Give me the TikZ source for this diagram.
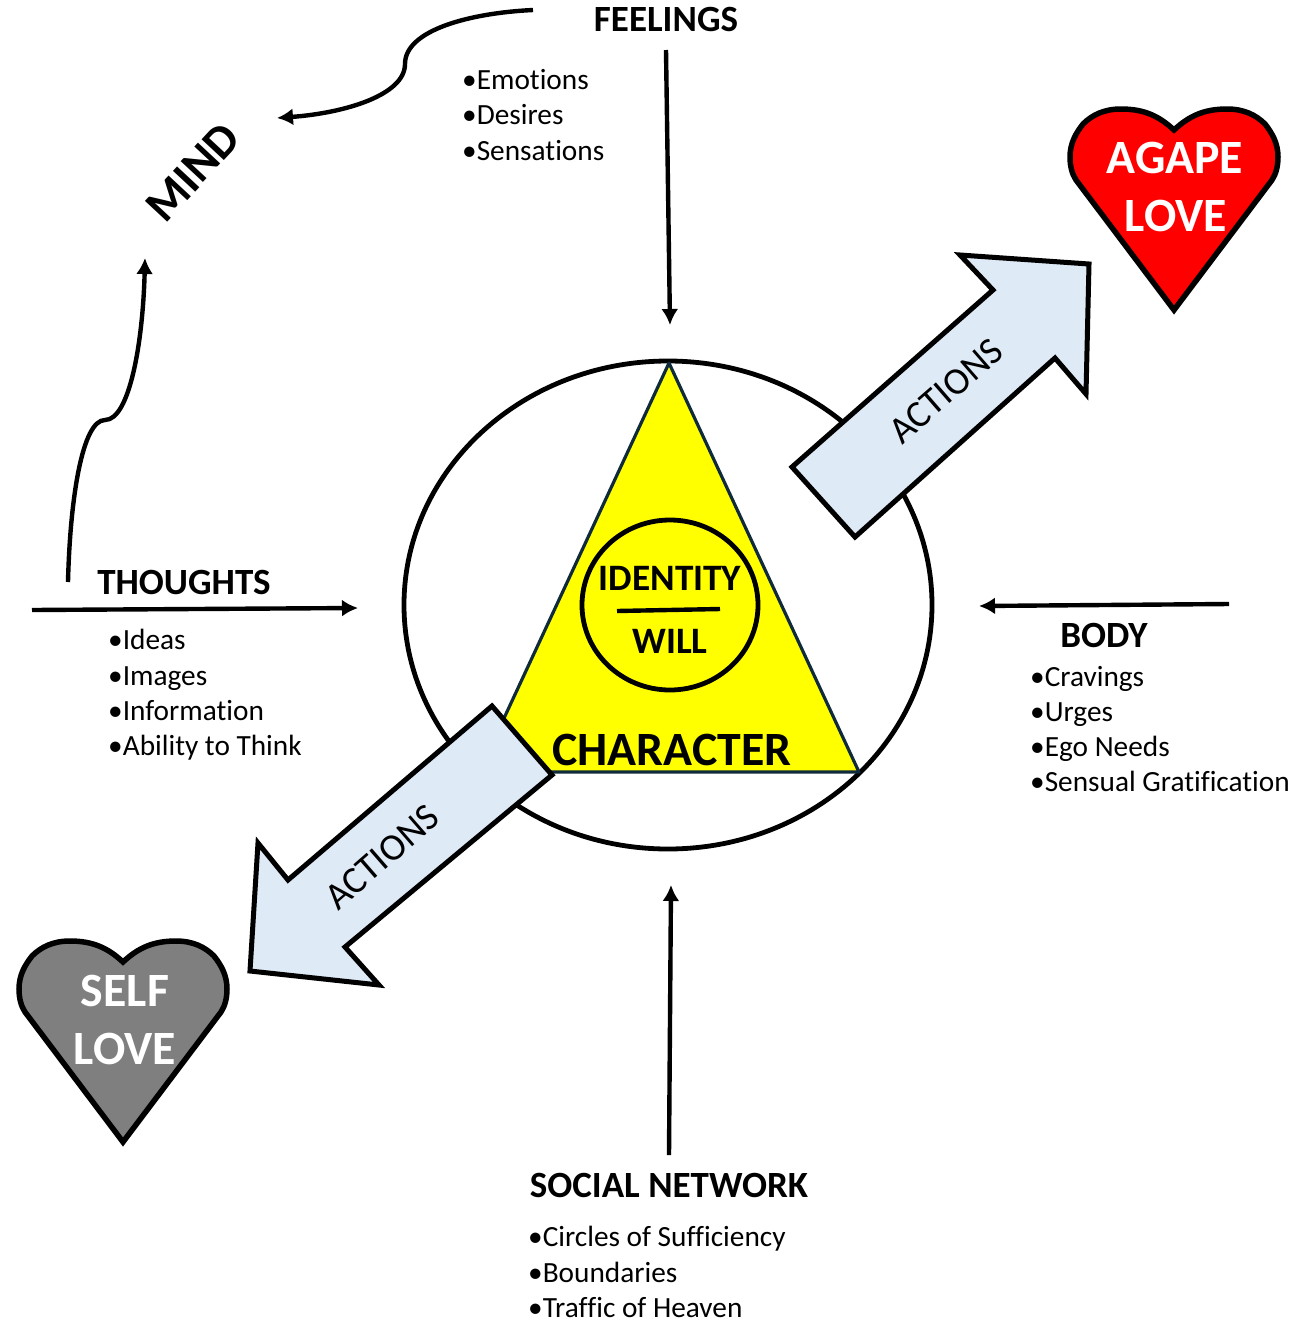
\documentclass[tikz,border=0pt]{standalone}
\usepackage{fontspec}
\setmainfont[Ligatures=NoCommon]{Carlito}
\usetikzlibrary{arrows.meta}

\definecolor{actionblue}{HTML}{DEEAF6}
\definecolor{triedge}{HTML}{0F2A3A}
\definecolor{selfgray}{HTML}{7F7F7F}
\definecolor{triyellow}{RGB}{255,255,0}
\definecolor{heartred}{RGB}{255,0,0}

\newcommand{\heartpath}{(0,0) .. controls (-15,-14) and (-30,-21) .. (-53,-21) .. controls (-70,-21) and (-82,-15) .. (-91,-6)
	.. controls (-98,3) and (-104,13) .. (-104,27) .. controls (-104,36) and (-102,44) .. (-98,50)
	-- (0,180) -- (98,50) .. controls (102,44) and (104,36) .. (104,27) .. controls (104,13) and (98,3) .. (91,-6)
	.. controls (82,-15) and (70,-21) .. (53,-21) .. controls (30,-21) and (15,-14) .. (0,0) -- cycle}

\tikzset{
	flowarrow/.style={line width=4.4pt,-{Latex[length=16pt,width=17pt]}},
	actionarrow/.style={line width=5pt,fill=actionblue,miter limit=10},
	heartline/.style={line width=5.5pt,miter limit=10},
	headlabel/.style={inner sep=0pt,font=\fontsize{37}{40}\selectfont\bfseries},
	heartlabel/.style={inner sep=0pt,text=white,font=\fontsize{47.8}{50}\selectfont\bfseries},
	bulletlist/.style={inner sep=0pt,anchor=west,align=left,font=\fontsize{29.3}{35.3}\selectfont},
	actionlabel/.style={inner sep=0pt,rotate=41,font=\fontsize{38}{40}\selectfont},
}

\begin{document}
\begin{tikzpicture}[x=1pt,y=-1pt]
	\useasboundingbox (0,0) rectangle (1304,1318);

	% outer circle
	\draw[line width=4.8pt] (668,605) ellipse [x radius=264,y radius=244];

	% triangle
	\draw[line width=3.2pt,draw=triedge,fill=triyellow,line join=round] (669,363) -- (859,772) -- (479,772) -- cycle;
	\node[inner sep=0pt,font=\fontsize{47.8}{50}\selectfont\bfseries] (character) at (672,750) {CHARACTER};

	% inner circle
	\draw[line width=4.8pt] (670,605) ellipse [x radius=88,y radius=85];
	\node[inner sep=0pt,font=\fontsize{37.3}{40}\selectfont\bfseries] (identity) at (670,578) {IDENTITY};
	\node[inner sep=0pt,font=\fontsize{37.3}{40}\selectfont\bfseries] (will) at (670,641) {WILL};
	\coordinate (barleft) at (617,611);
	\coordinate (barright) at (720,609);
	\draw[line width=4.4pt] (barleft) -- (barright);

	% block arrows
	\draw[actionarrow] (792,467) -- (855,537) -- (1055,358) -- (1086,394) -- (1089,264) -- (960,255) -- (993,290) -- cycle;
	\draw[actionarrow] (492,706) -- (552,775) -- (345,947) -- (379,985) -- (250,971) -- (258,843) -- (288,880) -- cycle;
	\node[actionlabel] (actionsup) at (946,391) {ACTIONS};
	\node[actionlabel] (actionsdown) at (382,857) {ACTIONS};

	% hearts
	\draw[heartline,fill=heartred,shift={(1174,130)}] \heartpath;
	\draw[heartline,fill=selfgray,shift={(123,962)}] \heartpath;
	\node[heartlabel] (agape) at (1175,158) {AGAPE};
	\node[heartlabel] (agapelove) at (1176,216) {LOVE};
	\node[heartlabel] (self) at (125,991) {SELF};
	\node[heartlabel] (selflove) at (125,1049) {LOVE};

	% labels
	\node[headlabel] (feelings) at (666,19) {FEELINGS};
	\node[headlabel] (thoughts) at (184,582) {THOUGHTS};
	\node[headlabel] (body) at (1104,635) {BODY};
	\node[headlabel] (social) at (669,1185) {SOCIAL NETWORK};
	\node[inner sep=0pt,rotate=47,font=\fontsize{47}{50}\selectfont\bfseries] (mind) at (193,172) {MIND};

	% lists
	\node[bulletlist] (feelinglist) at (462,115) {•Emotions\\•Desires\\•Sensations};
	\node[bulletlist] (thoughtlist) at (108,695) {•Ideas\\•Images\\•Information\\•Ability to Think};
	\node[bulletlist] (bodylist) at (1030,729) {•Cravings\\•Urges\\•Ego Needs\\•Sensual Gratification};
	\node[bulletlist] (sociallist) at (528,1272) {•Circles of Sufficiency\\•Boundaries\\•Traffic of Heaven};

	% arrows into the character
	\coordinate (feelstart) at (666,50);
	\coordinate (feelend) at (670,325);
	\coordinate (thinkstart) at (32,610);
	\coordinate (thinkend) at (358,608);
	\coordinate (bodystart) at (1229,604);
	\coordinate (bodyend) at (979,606);
	\coordinate (socialstart) at (669,1155);
	\coordinate (socialend) at (671,885);
	\draw[flowarrow] (feelstart) -- (feelend);
	\draw[flowarrow] (thinkstart) -- (thinkend);
	\draw[flowarrow] (bodystart) -- (bodyend);
	\draw[flowarrow] (socialstart) -- (socialend);

	% curved arrows to the mind
	\coordinate (feelcurve) at (533,10);
	\coordinate (feelbend) at (405,64);
	\coordinate (mindright) at (277,118);
	\coordinate (thinkcurve) at (68,582);
	\coordinate (thinkbend) at (105,420);
	\coordinate (mindbelow) at (145,258);
	\draw[flowarrow] (feelcurve) .. controls (470,13) and (405,30) .. (feelbend) .. controls (405,95) and (345,113) .. (mindright);
	\draw[flowarrow] (thinkcurve) .. controls (70,500) and (82,420) .. (thinkbend) .. controls (130,420) and (143,340) .. (mindbelow);
\end{tikzpicture}
\end{document}
